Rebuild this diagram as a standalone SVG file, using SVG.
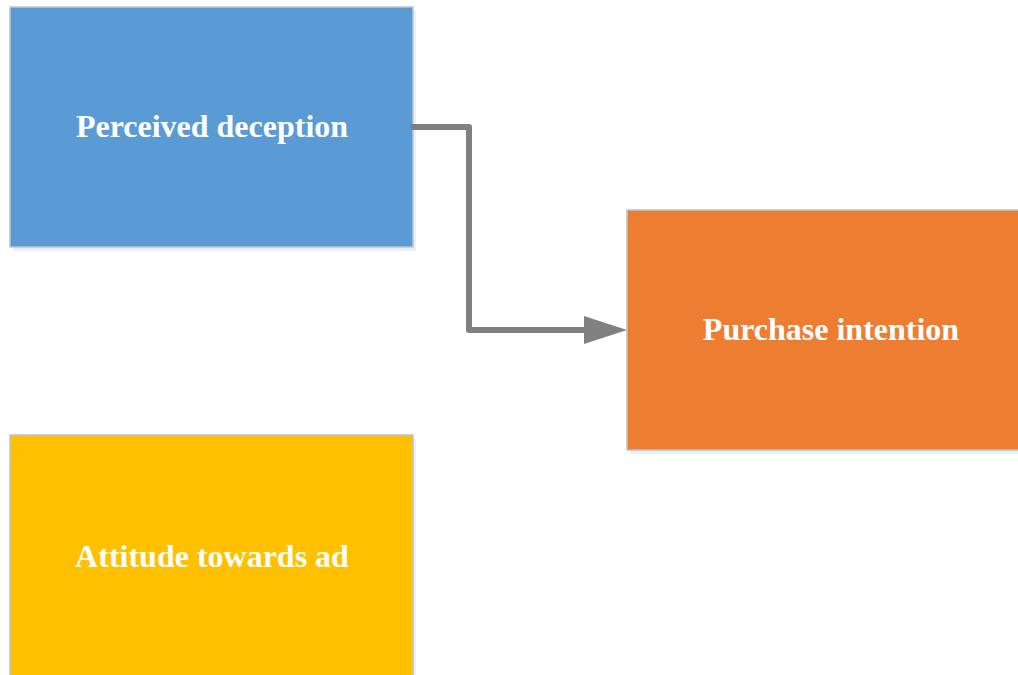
<svg xmlns="http://www.w3.org/2000/svg" width="1018" height="675" viewBox="0 0 1018 675">
<defs>
<style>
.box{stroke:#BFC4CA;stroke-width:1.5}
.sh{fill:#DCE6F2;opacity:0.6}
.lbl{font-family:"Liberation Serif","Times New Roman",serif;font-weight:bold;font-size:32px;fill:#FFFFFF;text-anchor:middle}
.conn{fill:none;stroke:#808080;stroke-width:6;stroke-linejoin:round;stroke-linecap:round}
</style>
</defs>
<rect width="1018" height="675" fill="#FFFFFF"/>
<g id="node-perceived-deception">
<rect class="sh" x="13" y="11" width="403" height="240"/>
<rect class="box" x="10" y="7" width="403" height="240" fill="#5B9BD5"/>
<text class="lbl" x="212" y="137">Perceived deception</text>
</g>
<g id="node-purchase-intention">
<rect class="sh" x="630" y="214" width="403" height="240"/>
<rect class="box" x="627" y="210" width="403" height="240" fill="#ED7D31"/>
<text class="lbl" x="831" y="340">Purchase intention</text>
</g>
<g id="node-attitude-towards-ad">
<rect class="sh" x="13" y="439" width="403" height="240"/>
<rect class="box" x="10" y="435" width="403" height="245" fill="#FFC000"/>
<text class="lbl" x="212" y="567">Attitude towards ad</text>
</g>
<g id="connectors">
<path class="conn" d="M413,127 H469 V330 H588"/>
<polygon points="584,316 627,330 584,344" fill="#808080"/>
</g>
</svg>
